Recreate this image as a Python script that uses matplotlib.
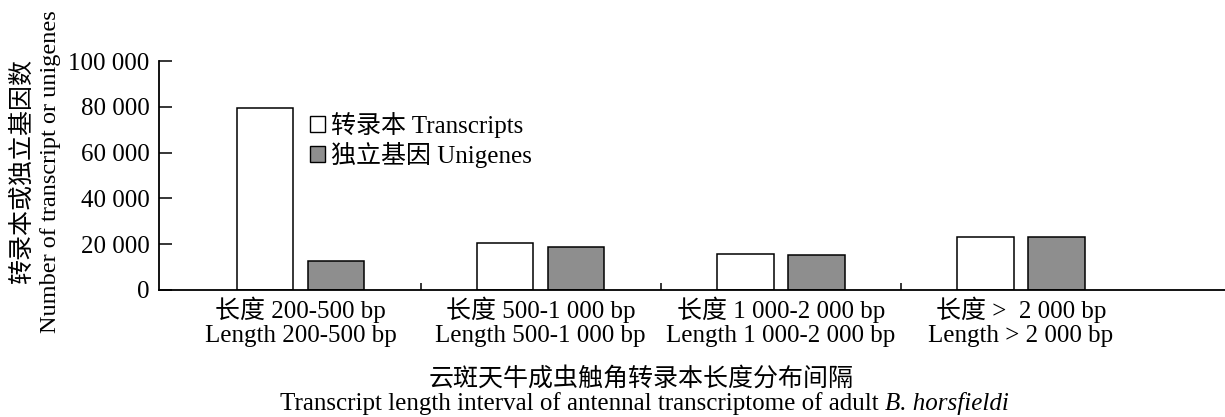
import numpy as np
import matplotlib
matplotlib.use("Agg")
import matplotlib.pyplot as plt
from matplotlib.ticker import FuncFormatter, FixedLocator
from matplotlib.patches import Patch

plt.rcParams["font.family"] = ["Liberation Serif", "Noto Sans CJK SC"]

# 转录本/独立基因长度分布
categories = ["长度 200-500 bp\nLength 200-500 bp",
              "长度 500-1 000 bp\nLength 500-1 000 bp",
              "长度 1 000-2 000 bp\nLength 1 000-2 000 bp",
              "长度 >  2 000 bp\nLength > 2 000 bp"]
transcripts = [79500, 20500, 15600, 23000]
unigenes = [12700, 18700, 15400, 23000]
yticks = [0, 20000, 40000, 60000, 80000, 100000]

fig = plt.figure(figsize=(12.25, 4.17), dpi=100)
ax = fig.add_axes([159 / 1225, 1 - 290 / 417, 1 - 159 / 1225, 229 / 417])

x = np.arange(len(categories))
w = 0.235
off = 0.148
ax.bar(x - off, transcripts, w, color="white", edgecolor="black", linewidth=1.1,
       label="转录本 Transcripts")
ax.bar(x + off, unigenes, w, color="#8e8e8e", edgecolor="black", linewidth=1.1,
       label="独立基因 Unigenes")

ax.set_xlim(-0.59, 3.85)
ax.set_ylim(0, 100000)
ax.set_yticks(yticks)
ax.yaxis.set_major_formatter(FuncFormatter(lambda v, p: f"{int(v):,}".replace(",", " ")))
ax.tick_params(axis="y", direction="in", length=9, width=1.1, labelsize=18, pad=7)

ax.set_xticks(x)
ax.set_xticklabels(categories, fontsize=18, linespacing=1.1)
ax.tick_params(axis="x", which="major", length=0, pad=5)
ax.xaxis.set_minor_locator(FixedLocator([0.5, 1.5, 2.5]))
ax.tick_params(axis="x", which="minor", direction="in", length=5, width=1.1)

for s in ["top", "right"]:
    ax.spines[s].set_visible(False)
for s in ["left", "bottom"]:
    ax.spines[s].set_linewidth(1.3)

handles = [Patch(facecolor="white", edgecolor="black", linewidth=1.0),
           Patch(facecolor="#8e8e8e", edgecolor="black", linewidth=1.0)]
fig.legend(handles, ["转录本 Transcripts", "独立基因 Unigenes"],
           loc="upper left", bbox_to_anchor=(310 / 1225, 1 - 112 / 417),
           frameon=False, fontsize=18, handlelength=0.6, handleheight=0.6,
           handletextpad=0.25, labelspacing=0.15, borderpad=0, borderaxespad=0)

# 纵轴标题（中英两行）
fig.text(22 / 1225, 1 - 171 / 417, "转录本或独立基因数",
         rotation=90, ha="center", va="center", fontsize=18)
fig.text(51 / 1225, 1 - 172 / 417, "Number of transcript or unigenes",
         rotation=90, ha="center", va="center", fontsize=17.5)

# 横轴标题，物种名用斜体
fig.text(641 / 1225, 1 - 379 / 417, "云斑天牛成虫触角转录本长度分布间隔",
         ha="center", va="center", fontsize=18)
fig.text(885 / 1225, 1 - 410 / 417,
         "Transcript length interval of antennal transcriptome of adult ",
         ha="right", va="baseline", fontsize=18)
fig.text(885 / 1225, 1 - 410 / 417, "B. horsfieldi",
         ha="left", va="baseline", fontsize=18, style="italic")

fig.savefig("out.png", dpi=100)
